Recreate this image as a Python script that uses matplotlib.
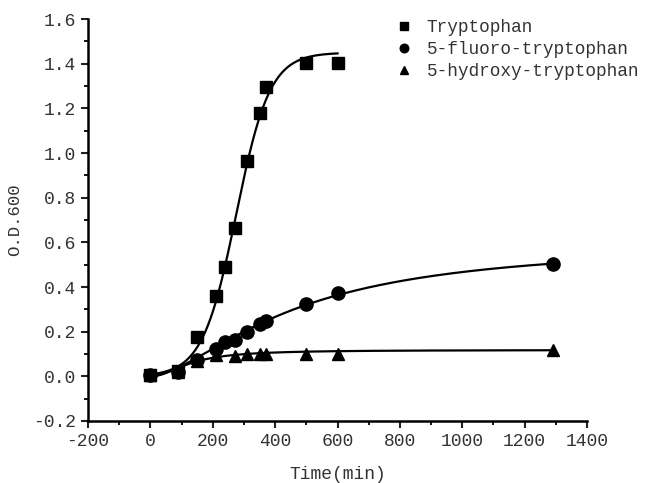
import matplotlib
matplotlib.use('Agg')
import numpy as np
import matplotlib.pyplot as plt
from matplotlib.ticker import MultipleLocator

# measured points
time_trp = [0, 90, 150, 210, 240, 270, 310, 350, 370, 500, 600]
od_trp = [0.005, 0.022, 0.176, 0.36, 0.49, 0.665, 0.963, 1.18, 1.295, 1.405, 1.405]

time_fluoro = [0, 90, 150, 210, 240, 270, 310, 350, 370, 500, 600, 1290]
od_fluoro = [0.005, 0.02, 0.072, 0.124, 0.154, 0.161, 0.2, 0.233, 0.246, 0.326, 0.373, 0.505]

time_hydroxy = [0, 90, 150, 210, 270, 310, 350, 370, 500, 600, 1290]
od_hydroxy = [0.005, 0.02, 0.07, 0.094, 0.09, 0.1, 0.1, 0.1, 0.1, 0.1, 0.117]

# fitted growth curves (parameters)
trp_fit = dict(top=1.45, x0=275, dx=54, end=600)          # Boltzmann
fluoro_fit = dict(top=0.6, x0=460, p=1.62, end=1290)      # Logistic
hydroxy_fit = dict(top=0.118, x0=130, p=2.0, end=1290)    # Logistic


def boltzmann(t, top, x0, dx):
    return top / (1 + np.exp(-(t - x0) / dx))


def logistic(t, top, x0, p):
    return top - top / (1 + (t / x0) ** p)


plt.rcParams['font.family'] = ['Liberation Mono', 'DejaVu Sans Mono']
plt.rcParams['axes.unicode_minus'] = False

fig = plt.figure(figsize=(6.54, 4.83), dpi=100)
ax = fig.add_axes([0.1346, 0.1284, 0.763, 0.832])

t1 = np.linspace(0, trp_fit['end'], 300)
ax.plot(t1, boltzmann(t1, trp_fit['top'], trp_fit['x0'], trp_fit['dx']), 'k-', lw=1.6)
t2 = np.linspace(0, fluoro_fit['end'], 400)
ax.plot(t2, logistic(t2, fluoro_fit['top'], fluoro_fit['x0'], fluoro_fit['p']), 'k-', lw=1.6)
t3 = np.linspace(0, hydroxy_fit['end'], 400)
ax.plot(t3, logistic(t3, hydroxy_fit['top'], hydroxy_fit['x0'], hydroxy_fit['p']), 'k-', lw=1.6)

ax.plot(time_hydroxy, od_hydroxy, '^', color='k', ms=9, ls='none', label='5-hydroxy-tryptophan')
ax.plot(time_fluoro, od_fluoro, 'o', color='k', ms=9.5, ls='none', label='5-fluoro-tryptophan')
ax.plot(time_trp, od_trp, 's', color='k', ms=9, ls='none', label='Tryptophan')

ax.set_xlim(-200, 1400)
ax.set_ylim(-0.2, 1.6)
ax.xaxis.set_major_locator(MultipleLocator(200))
ax.xaxis.set_minor_locator(MultipleLocator(100))
ax.yaxis.set_major_locator(MultipleLocator(0.2))
ax.yaxis.set_minor_locator(MultipleLocator(0.1))
ax.yaxis.set_major_formatter(plt.FuncFormatter(lambda v, _: f'{v:.1f}'))

for side in ['top', 'right']:
    ax.spines[side].set_visible(False)
for side in ['left', 'bottom']:
    ax.spines[side].set_linewidth(1.8)
ax.tick_params(which='major', direction='out', length=5, width=1.5, labelsize=13,
               color='#222222', labelcolor='#333333')
ax.tick_params(which='minor', direction='out', length=3, width=1.3)

ax.set_xlabel('Time(min)', fontsize=13, color='#333333', labelpad=12)
ax.set_ylabel('O.D.600', fontsize=12.5, color='#333333', labelpad=8)

handles, labels = ax.get_legend_handles_labels()
ax.legend(handles[::-1], labels[::-1], loc='upper left', bbox_to_anchor=(0.575, 1.04),
          frameon=False, fontsize=12.8, markerscale=0.65, handletextpad=0.5,
          labelspacing=0.28, handlelength=1.5, labelcolor='#333333')

plt.savefig('out.png', dpi=100)
plt.close()
